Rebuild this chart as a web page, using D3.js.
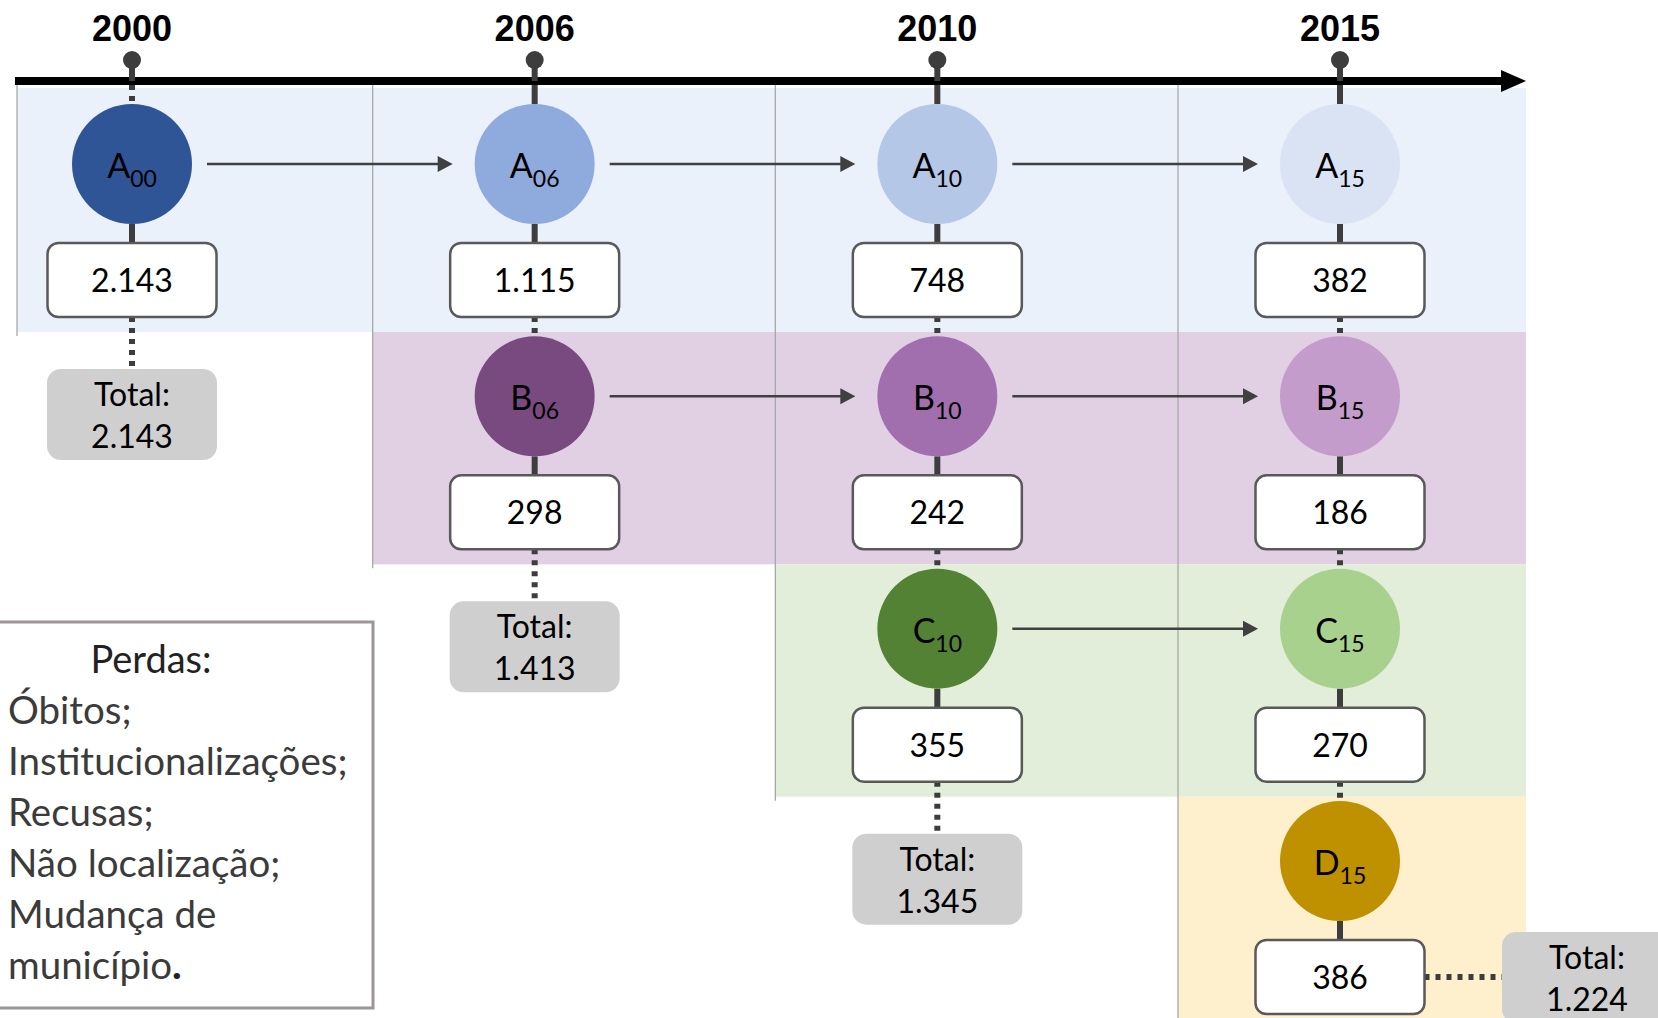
<!DOCTYPE html>
<html>
<head>
<meta charset="utf-8">
<script src="https://cdn.jsdelivr.net/npm/d3@7"></script>
<style>
  body { margin: 0; background: #fff; overflow: hidden; }
  svg { display: block; }
</style>
</head>
<body>
<svg id="chart" width="1658" height="1018"></svg>
<script>
// waves of the study and the cohorts that enter at each one
const years = ['2000', '2006', '2010', '2015'];
const cohorts = ['A', 'B', 'C', 'D'];

// people followed in each cohort, from the year it entered
const valuesA = [2143, 1115, 748, 382];
const valuesB = [298, 242, 186];
const valuesC = [355, 270];
const valuesD = [386];

// node colours per cohort, same order as the values
const colorsA = ['#2F5597', '#8FAADC', '#B4C7E7', '#DAE3F3'];
const colorsB = ['#794A80', '#A26FAE', '#C39CCB'];
const colorsC = ['#548235', '#A9D18E'];
const colorsD = ['#BF9000'];
const bandColors = ['#EAF1FA', '#E1D0E4', '#E2EED9', '#FEF0CD'];

const lossesTitle = 'Perdas:';
const losses = ['Óbitos;', 'Institucionalizações;', 'Recusas;', 'Não localização;', 'Mudança de', 'município'];

const W = 1658;
const H = 1018;
const AXIS_Y = 81;
const R = 60;
const BOX_W = 169;
const BOX_H = 74;
const BOX_DY = 116;
const DARK = '#3d3d3d';
const FONT = 'Lato, "Open Sans", sans-serif';

// small stand-in for d3-selection-multi
d3.selection.prototype.attrs = function (o) {
  Object.keys(o).forEach(k => this.attr(k, o[k]));
  return this;
};

const fmt = d3.formatLocale({ decimal: ',', thousands: '.', grouping: [3], currency: ['', ''] }).format(',d');

main();

function main () {
  const svg = d3.select('#chart');
  const x = d3.scalePoint().domain(years).range([132, 1340]);
  const y = d3.scalePoint().domain(cohorts).range([164, 861]);

  const series = [valuesA, valuesB, valuesC, valuesD];
  const colors = [colorsA, colorsB, colorsC, colorsD];
  const nodes = [];
  cohorts.forEach((c, ci) => {
    series[ci].forEach((v, k) => {
      nodes.push({ cohort: c, ci: ci, year: years[ci + k], col: ci + k, value: v, color: colors[ci][k] });
    });
  });

  const totals = years.map(yr => d3.sum(nodes.filter(n => n.year === yr), n => n.value));

  const sepX = yr => Math.max(17, x(yr) - 162);
  const bandBottom = ci => ci < cohorts.length - 1 ? y(cohorts[ci]) + 168 : H;

  drawBands(svg, x, y, sepX, bandBottom);
  drawAxis(svg, x);
  drawStems(svg, x, y, nodes);
  drawArrows(svg, x, y, nodes);
  drawNodes(svg, x, y, nodes);
  drawTotals(svg, x, y, totals);
  drawLegend(svg);
}

function drawBands (svg, x, y, sepX, bandBottom) {
  cohorts.forEach((c, ci) => {
    const top = ci === 0 ? AXIS_Y + 7 : bandBottom(ci - 1);
    svg.append('rect').attrs({
      x: sepX(years[ci]),
      y: top,
      width: 1526 - sepX(years[ci]),
      height: bandBottom(ci) - top,
      fill: bandColors[ci]
    });
  });
  // thin separators between the waves
  years.forEach((yr, j) => {
    svg.append('line').attrs({
      x1: sepX(yr), x2: sepX(yr),
      y1: AXIS_Y, y2: j < years.length - 1 ? bandBottom(j) + 4 : H,
      stroke: '#a8a8a8', 'stroke-width': 1.3
    });
  });
}

function drawAxis (svg, x) {
  svg.append('line').attrs({
    x1: 15, x2: 1505, y1: AXIS_Y, y2: AXIS_Y,
    stroke: '#000', 'stroke-width': 8
  });
  svg.append('path')
    .attr('d', d3.line()([[1501, AXIS_Y - 11], [1526, AXIS_Y], [1501, AXIS_Y + 11]]) + 'Z')
    .attr('fill', '#000');

  years.forEach(yr => {
    svg.append('text').text(yr).attrs({
      x: x(yr), y: 41,
      'text-anchor': 'middle',
      'font-family': '"Liberation Sans", Arial, sans-serif',
      'font-weight': 700,
      'font-size': '36px',
      fill: '#000'
    });
    svg.append('line').attrs({
      x1: x(yr), x2: x(yr), y1: 60, y2: AXIS_Y,
      stroke: DARK, 'stroke-width': 6
    });
    svg.append('circle').attrs({ cx: x(yr), cy: 60, r: 9, fill: DARK });
  });
}

function stem (svg, x1, y1, x2, y2, dotted) {
  const l = svg.append('line').attrs({
    x1: x1, y1: y1, x2: x2, y2: y2,
    stroke: DARK,
    'stroke-width': 6
  });
  if (dotted) l.attr('stroke-dasharray', '5,6');
}

function drawStems (svg, x, y, nodes) {
  years.forEach((yr, j) => {
    const col = nodes.filter(n => n.year === yr);
    const cx = x(yr);
    // axis down to the first circle: the first wave starts dotted
    stem(svg, cx, AXIS_Y + 4, cx, y(col[0].cohort) - R, j === 0);
    col.forEach((n, k) => {
      const cy = y(n.cohort);
      stem(svg, cx, cy + R, cx, cy + BOX_DY - BOX_H / 2, false);
      const boxBottom = cy + BOX_DY + BOX_H / 2;
      if (k < col.length - 1) {
        stem(svg, cx, boxBottom, cx, y(col[k + 1].cohort) - R, true);
      } else if (j < years.length - 1) {
        stem(svg, cx, boxBottom, cx, boxBottom + 52, true);
      } else {
        stem(svg, cx + BOX_W / 2, cy + BOX_DY, cx + 247 - 85, cy + BOX_DY, true);
      }
    });
  });
}

function drawArrows (svg, x, y, nodes) {
  cohorts.forEach(c => {
    const row = nodes.filter(n => n.cohort === c);
    for (let k = 0; k < row.length - 1; k++) {
      const x1 = x(row[k].year) + R + 15;
      const x2 = x(row[k + 1].year) - R - 22;
      const cy = y(c);
      svg.append('line').attrs({
        x1: x1, x2: x2 - 12, y1: cy, y2: cy,
        stroke: '#404040', 'stroke-width': 2.5
      });
      svg.append('path')
        .attr('d', d3.line()([[x2 - 15, cy - 8], [x2, cy], [x2 - 15, cy + 8]]) + 'Z')
        .attr('fill', '#404040');
    }
  });
}

function drawNodes (svg, x, y, nodes) {
  nodes.forEach(n => {
    const cx = x(n.year);
    const cy = y(n.cohort);
    svg.append('circle').attrs({ cx: cx, cy: cy, r: R, fill: n.color });
    const label = svg.append('text').attrs({
      x: cx, y: cy + 14,
      'text-anchor': 'middle',
      'font-family': FONT,
      'font-size': '34px',
      fill: '#000'
    });
    label.append('tspan').text(n.cohort);
    label.append('tspan').text(n.year.slice(2)).attrs({ 'font-size': '23px', dy: 9 });

    svg.append('rect').attrs({
      x: cx - BOX_W / 2, y: cy + BOX_DY - BOX_H / 2,
      width: BOX_W, height: BOX_H, rx: 11,
      fill: '#fff', stroke: '#595959', 'stroke-width': 2.5
    });
    svg.append('text').text(fmt(n.value)).attrs({
      x: cx, y: cy + BOX_DY + 12,
      'text-anchor': 'middle',
      'font-family': FONT,
      'font-size': '32px',
      fill: '#000'
    });
  });
}

function drawTotals (svg, x, y, totals) {
  years.forEach((yr, j) => {
    const last = j === years.length - 1;
    const boxCy = y(cohorts[j]) + BOX_DY;
    const cx = last ? x(yr) + 247 : x(yr);
    const cy = last ? boxCy : boxCy + BOX_H / 2 + 52 + 45;
    svg.append('rect').attrs({
      x: cx - 85, y: cy - 45, width: 170, height: 91, rx: 14,
      fill: '#D0CFD0'
    });
    ['Total:', fmt(totals[j])].forEach((t, i) => {
      svg.append('text').text(t).attrs({
        x: cx, y: cy - 8 + i * 42,
        'text-anchor': 'middle',
        'font-family': FONT,
        'font-size': '32px',
        fill: '#000'
      });
    });
  });
}

function drawLegend (svg) {
  svg.append('rect').attrs({
    x: -5, y: 622, width: 378, height: 386,
    fill: '#fff', stroke: '#9e9696', 'stroke-width': 3
  });
  svg.append('text').text(lossesTitle).attrs({
    x: 151, y: 673,
    'text-anchor': 'middle',
    'font-family': FONT,
    'font-size': '38px',
    fill: '#222'
  });
  losses.forEach((t, i) => {
    const line = svg.append('text').attrs({
      x: 8, y: 724 + i * 51,
      'font-family': FONT,
      'font-size': '38.5px',
      fill: '#3b3b3b'
    });
    line.append('tspan').text(t);
    if (i === losses.length - 1) line.append('tspan').text('.').attr('font-weight', 900).attr('fill', '#222');
  });
}
</script>
</body>
</html>
